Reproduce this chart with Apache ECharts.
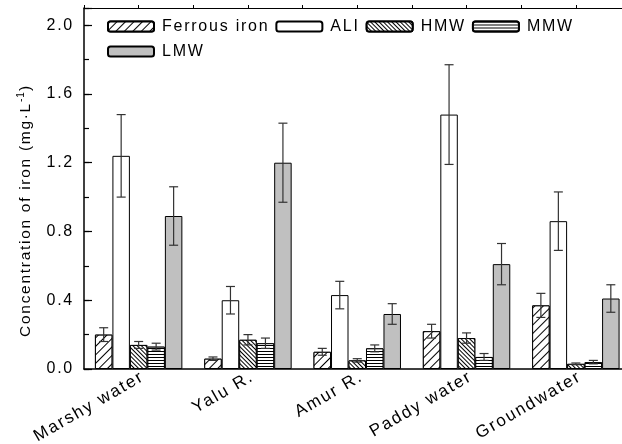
<!DOCTYPE html>
<html><head><meta charset="utf-8">
<script src="https://cdn.jsdelivr.net/npm/echarts@6/dist/echarts.min.js"></script>
<style>html,body{margin:0;padding:0;background:#fff}#c{width:622px;height:444px}</style>
</head><body><div id="c"></div>
<script>
const categories = ['Marshy water', 'Yalu R.', 'Amur R.', 'Paddy water', 'Groundwater'];
const seriesNames = ['Ferrous iron', 'ALI', 'HMW', 'MMW', 'LMW'];
const ferrous    = [0.20, 0.06, 0.10, 0.22, 0.37];
const ferrousErr = [0.04, 0.01, 0.02, 0.04, 0.07];
const ali        = [1.24, 0.40, 0.43, 1.48, 0.86];
const aliErr     = [0.24, 0.08, 0.08, 0.29, 0.17];
const hmw        = [0.14, 0.17, 0.05, 0.18, 0.03];
const hmwErr     = [0.02, 0.03, 0.01, 0.03, 0.005];
const mmw        = [0.13, 0.15, 0.12, 0.07, 0.04];
const mmwErr     = [0.02, 0.03, 0.02, 0.02, 0.01];
const lmw        = [0.89, 1.20, 0.32, 0.61, 0.41];
const lmwErr     = [0.17, 0.23, 0.06, 0.12, 0.08];
const yTickValues = [0.0, 0.4, 0.8, 1.2, 1.6, 2.0];

const values = [ferrous, ali, hmw, mmw, lmw];
const errors = [ferrousErr, aliErr, hmwErr, mmwErr, lmwErr];

// wider letter tracking, as in the original export
(function () {
  const proto = CanvasRenderingContext2D.prototype;
  ['fillText', 'strokeText', 'measureText'].forEach(fn => {
    const orig = proto[fn];
    proto[fn] = function () {
      const m = /(\d+(?:\.\d+)?)px/.exec(this.font || '');
      const size = m ? parseFloat(m[1]) : 12;
      const ls = (size * 0.11).toFixed(2) + 'px';
      if ('letterSpacing' in this && this.letterSpacing !== ls) this.letterSpacing = ls;
      return orig.apply(this, arguments);
    };
  });
})();

const FONT = 'Liberation Sans';
const BAR_FRAC = 0.16;

const styles = [
  { color: '#fff', decal: { symbol: 'rect', symbolSize: 1, dashArrayX: [1, 0], dashArrayY: [1, 5], rotation: -Math.PI / 4, color: '#000', backgroundColor: '#fff' } },
  { color: '#fff' },
  { color: '#fff', decal: { symbol: 'rect', symbolSize: 1, dashArrayX: [1, 0], dashArrayY: [1, 2], rotation: Math.PI / 4, color: '#000', backgroundColor: '#fff' } },
  { color: '#fff', decal: { symbol: 'rect', symbolSize: 1, dashArrayX: [1, 0], dashArrayY: [1, 2], rotation: 0, color: '#000', backgroundColor: '#fff' } },
  { color: '#c0c0c0' }
];

const series = [];
seriesNames.forEach((name, i) => {
  series.push({
    name: name, type: 'bar', barWidth: (BAR_FRAC * 100) + '%', barGap: '0%',
    data: values[i],
    itemStyle: Object.assign({ borderColor: '#000', borderWidth: 1 }, styles[i]),
    emphasis: { disabled: true }, z: 2
  });
});
seriesNames.forEach((name, i) => {
  series.push({
    type: 'custom', name: name + ' err', z: 5, silent: true,
    data: categories.map((c, k) => [k, values[i][k], errors[i][k]]),
    renderItem: function (params, api) {
      const k = api.value(0), v = api.value(1), e = api.value(2);
      const catW = api.size([1, 0])[0];
      const off = (i - 2) * catW * BAR_FRAC;
      const top = api.coord([k, v + e]);
      const bot = api.coord([k, v - e]);
      const x = top[0] + off;
      const cap = 4.5;
      const st = { stroke: '#333', lineWidth: 1.2 };
      return { type: 'group', children: [
        { type: 'line', shape: { x1: x, y1: top[1], x2: x, y2: bot[1] }, style: st },
        { type: 'line', shape: { x1: x - cap, y1: top[1], x2: x + cap, y2: top[1] }, style: st },
        { type: 'line', shape: { x1: x - cap, y1: bot[1], x2: x + cap, y2: bot[1] }, style: st }
      ]};
    }
  });
});

const chart = echarts.init(document.getElementById('c'), null, { renderer: 'canvas' });
chart.setOption({
  animation: false,
  textStyle: { fontFamily: FONT },
  grid: { left: 84, top: 8, bottom: 75, right: -8.5, containLabel: false, outerBoundsMode: 'none' },
  legend: {
    data: seriesNames, left: 107, top: 17, width: 500, itemWidth: 46, itemHeight: 10,
    itemGap: 6, padding: 0, selectedMode: false,
    textStyle: { fontFamily: FONT, fontSize: 16, color: '#000', lineHeight: 19, padding: [0, 0, 0, 3] }
  },
  xAxis: [{
    type: 'category', data: categories, gridIndex: 0,
    axisLine: { lineStyle: { color: '#000', width: 1.5 } },
    axisTick: { inside: true, length: 5, lineStyle: { color: '#000', width: 1.2 } },
    axisLabel: { rotate: 30, fontSize: 17, color: '#000', fontFamily: FONT, margin: 9, padding: [0, -5, 0, 0] }
  }, {
    type: 'value', position: 'top', min: -0.5, max: 4.5, interval: 0.5, gridIndex: 0,
    axisLine: { show: true, onZero: false, lineStyle: { color: '#000', width: 1.2 } },
    axisTick: { show: true, inside: false, length: 3, lineStyle: { color: '#000', width: 1 } },
    axisLabel: { show: false }, splitLine: { show: false }
  }],
  yAxis: [{
    type: 'value', min: 0, max: 2.1, interval: 0.4,
    name: 'Concentration of iron (mg·L{sup|-1}){pad|}', nameLocation: 'middle', nameGap: 45, nameRotate: 90,
    nameTextStyle: { fontSize: 15.5, color: '#000', fontFamily: FONT, lineHeight: 20,
      rich: { sup: { fontSize: 10, verticalAlign: 'top', fontFamily: FONT, color: '#000' },
              pad: { width: 44 } } },
    axisLine: { show: true, onZero: false, lineStyle: { color: '#000', width: 1.5 } },
    axisTick: { show: true, inside: true, length: 8, lineStyle: { color: '#000', width: 1.2 } },
    axisLabel: { fontSize: 16, color: '#000', fontFamily: FONT, margin: 10,
      formatter: v => yTickValues.some(t => Math.abs(t - v) < 1e-6) ? v.toFixed(1) : '' },
    splitLine: { show: false }
  }, {
    type: 'value', min: 0, max: 2.1, interval: 0.2, position: 'left',
    axisLine: { show: false, onZero: false },
    axisTick: { show: true, inside: true, length: 5, lineStyle: { color: '#000', width: 1.2 } },
    axisLabel: { show: false }, splitLine: { show: false }
  }],
  series: series
});
</script></body></html>
